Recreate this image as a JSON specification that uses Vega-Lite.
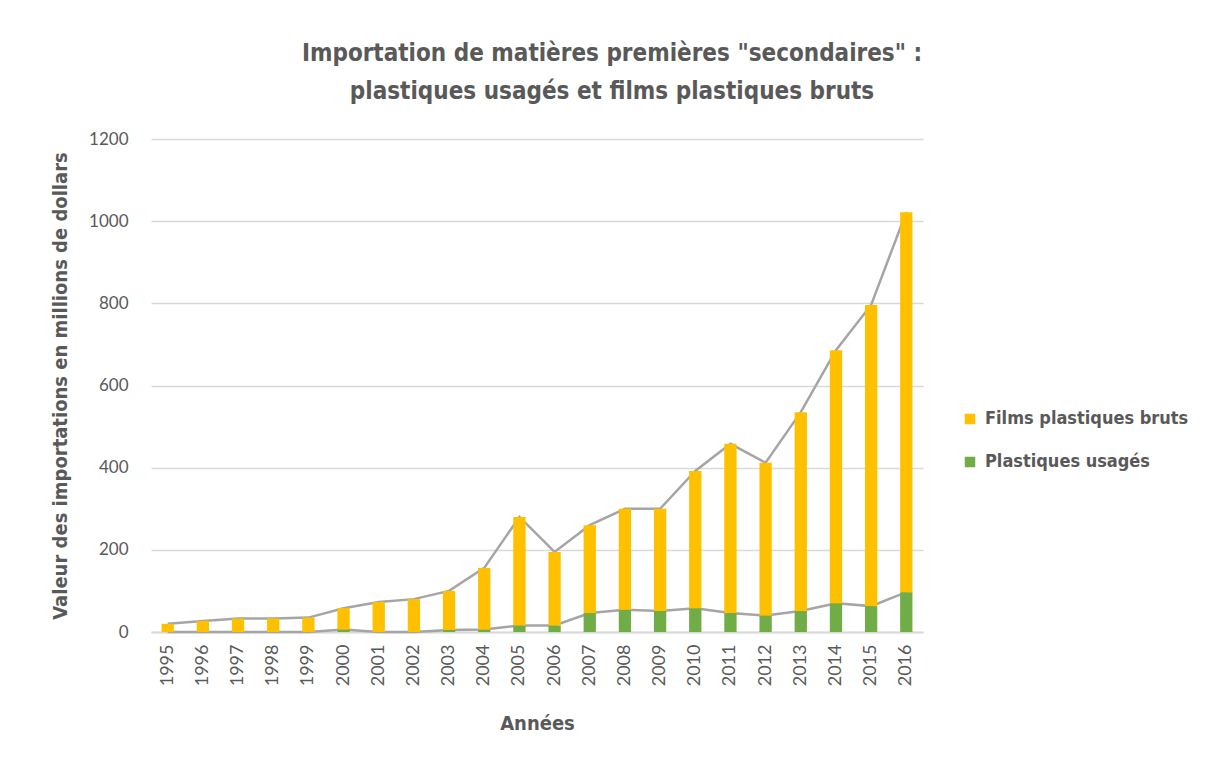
{
  "$schema": "https://vega.github.io/schema/vega-lite/v6.json",
  "autosize": "none",
  "width": 772,
  "height": 493,
  "padding": {"left": 151, "top": 139, "right": 283, "bottom": 128},
  "background": "white",
  "title": {
    "text": ["Importation de matières premières \"secondaires\" :", "plastiques usagés et films plastiques bruts"],
    "anchor": "middle",
    "frame": "group",
    "dx": 75,
    "offset": 26,
    "font": "DejaVu Sans Condensed, sans-serif",
    "fontSize": 24,
    "fontWeight": "bold",
    "color": "#595959",
    "lineHeight": 38
  },
  "data": {
    "values": [
      {"annee": "1995", "serie": "Plastiques usagés", "ordre": 1, "valeur": 0},
      {"annee": "1996", "serie": "Plastiques usagés", "ordre": 1, "valeur": 0},
      {"annee": "1997", "serie": "Plastiques usagés", "ordre": 1, "valeur": 0},
      {"annee": "1998", "serie": "Plastiques usagés", "ordre": 1, "valeur": 0},
      {"annee": "1999", "serie": "Plastiques usagés", "ordre": 1, "valeur": 0},
      {"annee": "2000", "serie": "Plastiques usagés", "ordre": 1, "valeur": 6},
      {"annee": "2001", "serie": "Plastiques usagés", "ordre": 1, "valeur": 0},
      {"annee": "2002", "serie": "Plastiques usagés", "ordre": 1, "valeur": 0},
      {"annee": "2003", "serie": "Plastiques usagés", "ordre": 1, "valeur": 5},
      {"annee": "2004", "serie": "Plastiques usagés", "ordre": 1, "valeur": 6},
      {"annee": "2005", "serie": "Plastiques usagés", "ordre": 1, "valeur": 16},
      {"annee": "2006", "serie": "Plastiques usagés", "ordre": 1, "valeur": 16},
      {"annee": "2007", "serie": "Plastiques usagés", "ordre": 1, "valeur": 46},
      {"annee": "2008", "serie": "Plastiques usagés", "ordre": 1, "valeur": 54},
      {"annee": "2009", "serie": "Plastiques usagés", "ordre": 1, "valeur": 51},
      {"annee": "2010", "serie": "Plastiques usagés", "ordre": 1, "valeur": 58},
      {"annee": "2011", "serie": "Plastiques usagés", "ordre": 1, "valeur": 46},
      {"annee": "2012", "serie": "Plastiques usagés", "ordre": 1, "valeur": 40},
      {"annee": "2013", "serie": "Plastiques usagés", "ordre": 1, "valeur": 51},
      {"annee": "2014", "serie": "Plastiques usagés", "ordre": 1, "valeur": 70},
      {"annee": "2015", "serie": "Plastiques usagés", "ordre": 1, "valeur": 63},
      {"annee": "2016", "serie": "Plastiques usagés", "ordre": 1, "valeur": 97},
      {"annee": "1995", "serie": "Films plastiques bruts", "ordre": 2, "valeur": 20},
      {"annee": "1996", "serie": "Films plastiques bruts", "ordre": 2, "valeur": 27},
      {"annee": "1997", "serie": "Films plastiques bruts", "ordre": 2, "valeur": 33},
      {"annee": "1998", "serie": "Films plastiques bruts", "ordre": 2, "valeur": 33},
      {"annee": "1999", "serie": "Films plastiques bruts", "ordre": 2, "valeur": 35},
      {"annee": "2000", "serie": "Films plastiques bruts", "ordre": 2, "valeur": 52},
      {"annee": "2001", "serie": "Films plastiques bruts", "ordre": 2, "valeur": 73},
      {"annee": "2002", "serie": "Films plastiques bruts", "ordre": 2, "valeur": 80},
      {"annee": "2003", "serie": "Films plastiques bruts", "ordre": 2, "valeur": 95},
      {"annee": "2004", "serie": "Films plastiques bruts", "ordre": 2, "valeur": 150},
      {"annee": "2005", "serie": "Films plastiques bruts", "ordre": 2, "valeur": 264},
      {"annee": "2006", "serie": "Films plastiques bruts", "ordre": 2, "valeur": 179},
      {"annee": "2007", "serie": "Films plastiques bruts", "ordre": 2, "valeur": 214},
      {"annee": "2008", "serie": "Films plastiques bruts", "ordre": 2, "valeur": 246},
      {"annee": "2009", "serie": "Films plastiques bruts", "ordre": 2, "valeur": 249},
      {"annee": "2010", "serie": "Films plastiques bruts", "ordre": 2, "valeur": 334},
      {"annee": "2011", "serie": "Films plastiques bruts", "ordre": 2, "valeur": 412},
      {"annee": "2012", "serie": "Films plastiques bruts", "ordre": 2, "valeur": 372},
      {"annee": "2013", "serie": "Films plastiques bruts", "ordre": 2, "valeur": 484},
      {"annee": "2014", "serie": "Films plastiques bruts", "ordre": 2, "valeur": 616},
      {"annee": "2015", "serie": "Films plastiques bruts", "ordre": 2, "valeur": 733},
      {"annee": "2016", "serie": "Films plastiques bruts", "ordre": 2, "valeur": 925}
    ]
  },
  "encoding": {
    "x": {
      "field": "annee",
      "type": "nominal",
      "scale": {"paddingInner": 0.65, "paddingOuter": 0.3},
      "axis": {
        "title": "Années",
        "titleFont": "DejaVu Sans Condensed, sans-serif",
        "titleFontSize": 20,
        "titleFontWeight": "bold",
        "titleColor": "#595959",
        "titlePadding": 28,
        "labelAngle": -90,
        "labelAlign": "right",
        "labelBaseline": "middle",
        "labelFont": "Lato, Open Sans, sans-serif",
        "labelFontSize": 18,
        "labelColor": "#595959",
        "labelPadding": 12,
        "ticks": false,
        "domainColor": "#D9D9D9",
        "domainWidth": 2
      }
    },
    "y": {
      "field": "valeur",
      "type": "quantitative",
      "stack": "zero",
      "scale": {"domain": [0, 1200]},
      "axis": {
        "title": "Valeur des importations en millions de dollars",
        "titleFont": "DejaVu Sans Condensed, sans-serif",
        "titleFontSize": 20,
        "titleFontWeight": "bold",
        "titleColor": "#595959",
        "titlePadding": 18,
        "format": "d",
        "values": [0, 200, 400, 600, 800, 1000, 1200],
        "labelFont": "Lato, Open Sans, sans-serif",
        "labelFontSize": 17,
        "labelColor": "#595959",
        "labelPadding": 23,
        "ticks": false,
        "domain": false,
        "gridColor": "#D9D9D9",
        "gridWidth": 1.5
      }
    },
    "order": {"field": "ordre", "type": "quantitative"}
  },
  "layer": [
    {
      "mark": {"type": "line", "color": "#A5A5A5", "strokeWidth": 2.5},
      "encoding": {
        "detail": {"field": "serie", "type": "nominal"}
      }
    },
    {
      "mark": {"type": "bar"},
      "encoding": {
        "color": {
          "field": "serie",
          "type": "nominal",
          "scale": {
            "domain": ["Films plastiques bruts", "Plastiques usagés"],
            "range": ["#FFC000", "#70AD47"]
          },
          "legend": {
            "title": null,
            "orient": "none",
            "legendX": 810,
            "legendY": 271,
            "symbolType": "square",
            "symbolSize": 110,
            "symbolStrokeWidth": 0,
            "labelFont": "DejaVu Sans Condensed, sans-serif",
            "labelFontSize": 18,
            "labelFontWeight": "bold",
            "labelColor": "#595959",
            "labelLimit": 0,
            "rowPadding": 25,
            "labelOffset": 6
          }
        }
      }
    }
  ],
  "config": {
    "view": {"stroke": null}
  }
}
